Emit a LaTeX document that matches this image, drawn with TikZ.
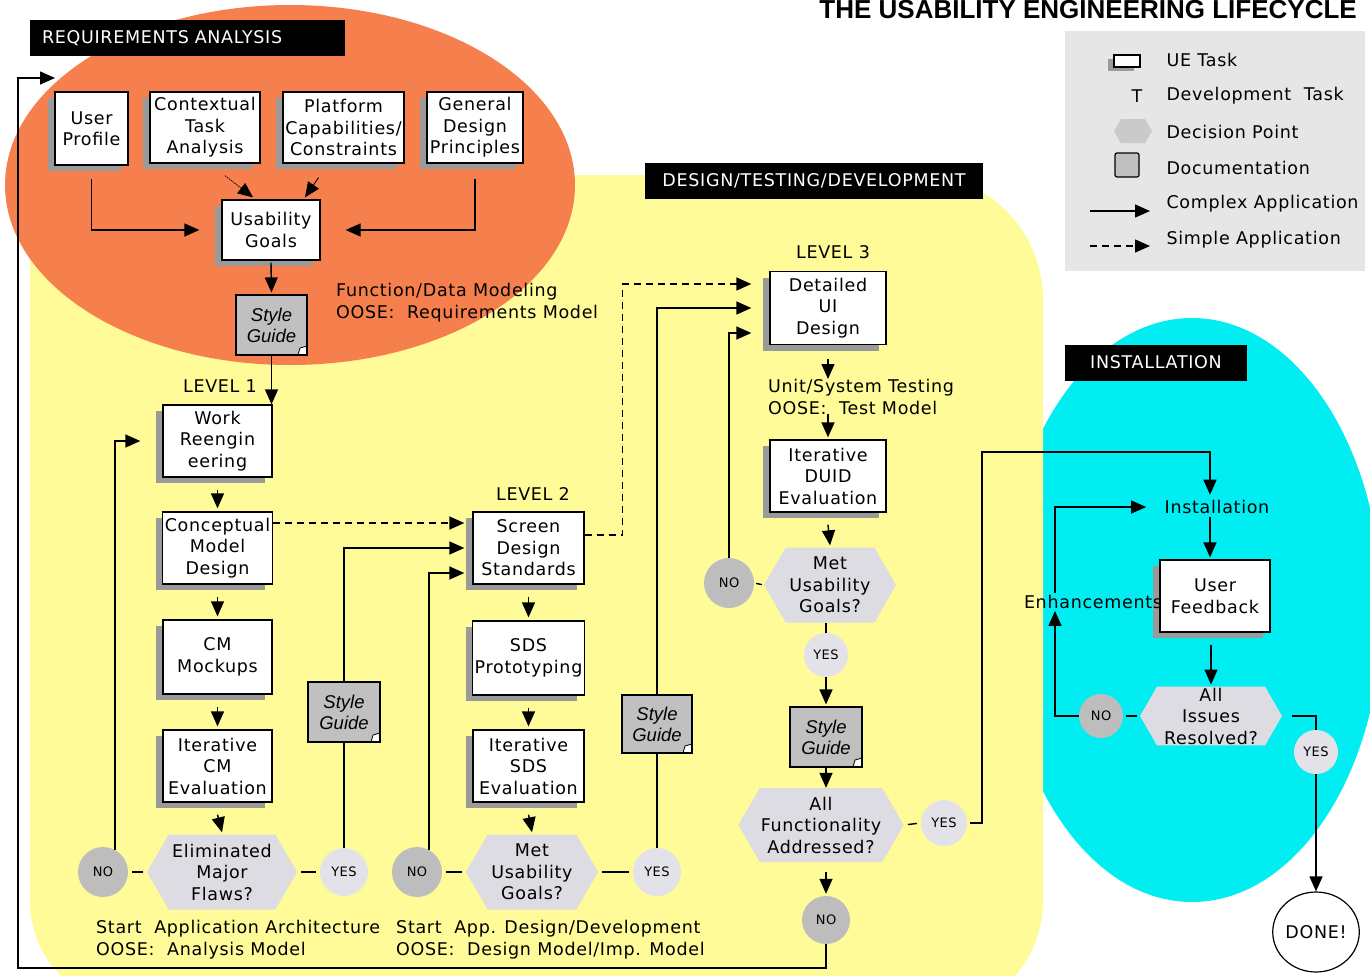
\documentclass[tikz,border=0pt]{standalone}
\usepackage{fontspec}
\setmainfont{DejaVu Sans}[LetterSpace=4]
\newfontfamily\titlefam{Liberation Sans}
\newfontfamily\docfam{Liberation Sans}
\usetikzlibrary{arrows.meta,shapes.geometric,shapes.symbols,shadows,calc}
\definecolor{reqorange}{HTML}{F5804E}
\definecolor{devyellow}{HTML}{FFFB99}
\definecolor{instcyan}{HTML}{00EEF2}
\definecolor{legendgray}{HTML}{E6E6E6}
\definecolor{docgray}{HTML}{C0C0C0}
\definecolor{shadowgray}{HTML}{9A9A9A}
\definecolor{hexgray}{HTML}{DCDCE2}
\definecolor{nogray}{HTML}{BDBDBD}
\definecolor{yesgray}{HTML}{E2E2E8}
\newcommand\bxfont{\fontsize{17.5}{21.5}\selectfont}
\newcommand\smfont{\fontsize{13}{15}\selectfont}
\newcommand\dcfont{\docfam\itshape\fontsize{18.5}{21}\selectfont}
\begin{document}
\begin{tikzpicture}[x=1pt, y=-1pt, font=\bxfont,
  ue/.style={draw, line width=1.3pt, fill=white, align=center, inner sep=2pt,
    minimum height=72pt,
    drop shadow={shadow xshift=-7pt, shadow yshift=-6pt, fill=shadowgray, opacity=1}},
  doc/.style={draw, line width=1.2pt, fill=docgray, minimum width=71pt, minimum height=60pt,
    align=center, inner sep=1pt, font=\dcfont,
    path picture={
      \fill[white] ([xshift=-9pt]path picture bounding box.south east) --
        ([xshift=-7pt,yshift=7pt]path picture bounding box.south east) --
        ([yshift=9pt]path picture bounding box.south east) --
        (path picture bounding box.south east) -- cycle;
      \draw[line width=0.8pt] ([xshift=-9pt]path picture bounding box.south east) --
        ([xshift=-7pt,yshift=7pt]path picture bounding box.south east) --
        ([yshift=9pt]path picture bounding box.south east);}},
  hex/.style={signal, signal to=east and west, signal pointer angle=120,
    fill=hexgray, align=center, inner sep=1pt, minimum height=75pt},
  nocirc/.style={circle, fill=nogray, inner sep=0pt, minimum size=50pt, font=\smfont},
  yescirc/.style={circle, fill=yesgray, inner sep=0pt, minimum size=48pt, font=\smfont},
  hdr/.style={fill=black, text=white, inner xsep=6pt, inner ysep=0pt, minimum height=36pt},
  txt/.style={inner sep=0pt, align=left},
  arr/.style={-{Triangle[length=15pt,width=13pt]}, line width=1.4pt},
  link/.style={line width=1.4pt},
  dashln/.style={dash pattern=on 7pt off 5pt}
]
\useasboundingbox (0,0) rectangle (1370,975);
\fill[white] (0,0) rectangle (1370,975);

% regions
\fill[instcyan] (1192,610) ellipse [x radius=190pt, y radius=292pt];
\fill[devyellow] (30,175) -- (920,175) to[out=0,in=90] (1043,300) -- (1043,900)
  to[out=-90,in=0] (960,1000) -- (120,1000) to[out=180,in=-90] (30,900) -- cycle;
\fill[reqorange] (290,185) ellipse [x radius=285pt, y radius=180pt];

% title and headers
\node[anchor=base east, font=\titlefam\bfseries\fontsize{26}{28}\selectfont, inner sep=0pt]
  (title) at (1357,18) {THE USABILITY ENGINEERING LIFECYCLE};
\node[hdr, minimum width=315pt, text width=291pt, align=left, inner xsep=12pt] (hra) at (187.5,38) {REQUIREMENTS ANALYSIS};
\node[hdr, minimum width=338pt] (hdd) at (814,180.5) {DESIGN/TESTING/DEVELOPMENT};
\node[hdr, minimum width=182pt] (hin) at (1156,362.5) {INSTALLATION};

% legend
\node[fill=legendgray, minimum width=300pt, minimum height=240pt, anchor=north west, inner sep=0pt] (leg) at (1065,31) {};
\node[draw, line width=1.2pt, fill=white, minimum width=26pt, minimum height=12pt, inner sep=0pt,
  drop shadow={shadow xshift=-6pt, shadow yshift=-4pt, fill=shadowgray, opacity=1}] (lgue) at (1127,61) {};
\node[anchor=west] (lt1) at (1163,60) {UE Task};
\node (lgt) at (1137,96) {T};
\node[anchor=west] (lt2) at (1163,96) {Development\ \ Task};
\node[signal, signal to=east and west, signal pointer angle=120, fill=nogray!80, minimum width=38pt, minimum height=24pt, inner sep=0pt] (lgdp) at (1133,131) {};
\node[anchor=west] (lt3) at (1163,132) {Decision Point};
\node[draw, line width=1.2pt, fill=docgray, minimum size=24pt, inner sep=0pt, rounded corners=2pt] (lgdoc) at (1127,165) {};
\node[anchor=west] (lt4) at (1163,168) {Documentation};
\coordinate (la1) at (1090,211); \coordinate (la2) at (1150,211);
\coordinate (lb1) at (1090,246); \coordinate (lb2) at (1150,246);
\draw[arr] (la1) -- (la2);
\draw[arr, dashln] (lb1) -- (lb2);
\node[anchor=west] (lt5) at (1163,204) {Complex Application};
\node[anchor=west] (lt6) at (1163,240) {Simple Application};

% requirements analysis
\node[ue, minimum width=73pt, minimum height=73pt] (up) at (91.5,128.5) {User\\Profile};
\node[ue, minimum width=110pt, minimum height=71pt] (cta) at (205,127.5) {Contextual\\Task\\Analysis};
\node[ue, minimum width=121pt, minimum height=71pt] (pcc) at (343.5,127.5) {Platform\\Capabilities/\\Constraints};
\node[ue, minimum width=96pt, minimum height=71pt] (gdp) at (475,127.5) {General\\Design\\Principles};
\node[ue, minimum width=98pt, minimum height=60pt] (ug) at (271,230) {Usability\\Goals};
\node[doc] (sg1) at (271.5,325) {Style\\Guide};
\node[txt, anchor=north west] (fdm) at (336,283) {Function/Data Modeling\\OOSE:\ \ Requirements Model};

% level 1
\node (lv1) at (220,386) {LEVEL 1};
\node[ue, minimum width=109pt] (wr) at (217.5,441) {Work\\Reengin\\eering};
\node[ue, minimum width=109pt] (cmd) at (217.5,548) {Conceptual\\Model\\Design};
\node[ue, minimum width=109pt, minimum height=74pt] (cmm) at (217.5,657) {CM\\Mockups};
\node[ue, minimum width=109pt] (icm) at (217.5,766) {Iterative\\CM\\Evaluation};
\node[hex, minimum width=150pt] (hex1) at (222,872) {Eliminated\\Major\\Flaws?};
\node[nocirc] (no1) at (103,872) {NO};
\node[yescirc] (yes1) at (344,872) {YES};
\node[doc, minimum width=72pt] (sg2) at (344,712) {Style\\Guide};
\node[txt, anchor=north west] (saa) at (96,920) {Start\ \ Application Architecture\\OOSE:\ \ Analysis Model};

% level 2
\node (lv2) at (533,494) {LEVEL 2};
\node[ue, minimum width=111pt] (sds) at (528.5,548) {Screen\\Design\\Standards};
\node[ue, minimum width=111pt, minimum height=74pt] (sdp) at (528.5,658) {SDS\\Prototyping};
\node[ue, minimum width=111pt] (isds) at (528.5,766) {Iterative\\SDS\\Evaluation};
\node[hex, minimum width=132pt] (hex2) at (532,872) {Met\\Usability\\Goals?};
\node[nocirc] (no2) at (417,872) {NO};
\node[yescirc] (yes2) at (657,872) {YES};
\node[doc, minimum width=70pt, minimum height=58pt] (sg3) at (657,724) {Style\\Guide};
\node[txt, anchor=north west] (sad) at (396,920) {Start\ \ App. Design/Development\\OOSE:\ \ Design Model/Imp. Model};

% level 3
\node (lv3) at (833,252) {LEVEL 3};
\node[ue, minimum width=116pt, minimum height=73pt] (dui) at (828,308) {Detailed\\UI\\Design};
\node[txt, anchor=north west] (ust) at (768,379) {Unit/System Testing\\OOSE:\ \ Test Model};
\node[ue, minimum width=116pt] (ide) at (828,476) {Iterative\\DUID\\Evaluation};
\node[hex, minimum width=132pt] (hex3) at (830,585) {Met\\Usability\\Goals?};
\node[nocirc] (no3) at (729,583) {NO};
\node[yescirc, minimum size=44pt] (yes3) at (826,655) {YES};
\node[doc, minimum width=72pt] (sg4) at (826,737) {Style\\Guide};
\node[hex, minimum width=150pt, minimum height=74pt] (hex4) at (821,825) {All\\Functionality\\Addressed?};
\node[yescirc, minimum size=46pt] (yes4) at (944,823) {YES};
\node[nocirc, minimum size=48pt] (no4) at (826,920) {NO};
\coordinate (j1) at (982,452);
\coordinate (fb1) at (18,968);
\coordinate (fb2) at (55,78);

% installation
\node (inst) at (1217,507) {Installation};
\node[ue, minimum width=110pt] (uf) at (1215,596) {User\\Feedback};
\node[inner sep=2pt] (enh) at (1093,602) {Enhancements};
\node[hex, minimum width=142pt, minimum height=58pt] (hex5) at (1211,716) {All\\Issues\\Resolved?};
\node[nocirc, minimum size=44pt] (no5) at (1101,716) {NO};
\node[yescirc, minimum size=44pt] (yes5) at (1316,752) {YES};
\node[ellipse, draw, line width=1.2pt, fill=white, minimum width=72pt, minimum height=80pt, inner sep=0pt] (done) at (1316,932) {DONE!};

% ---------------- connectors ----------------
\draw[arr] ([yshift=-13pt]up.south) |- ([xshift=-22pt]ug.west);
\draw[arr] ([yshift=-15pt]gdp.south) |- ([xshift=25pt]ug.east);
\draw[arr, densely dotted, line width=0.8pt] ([xshift=20pt,yshift=-12pt]cta.south) -- ([xshift=-18pt,yshift=2pt]ug.north);
\draw[arr, line width=0.9pt] ([xshift=-25pt,yshift=-14pt]pcc.south) -- ([xshift=34pt,yshift=2pt]ug.north);
\draw[arr] ([yshift=-2pt]ug.south) -- ([yshift=2pt]sg1.north);

\draw[arr] (sg1.south) -- (sg1.south |- wr.north);
\draw[arr] ([yshift=-12pt]wr.south) -- ([yshift=3pt]cmd.north);
\draw[arr] ([yshift=-12pt]cmd.south) -- ([yshift=3pt]cmm.north);
\draw[arr] ([yshift=-12pt]cmm.south) -- ([yshift=3pt]icm.north);
\draw[arr] ([yshift=-12pt]icm.south) -- ([yshift=2pt]hex1.north);
\draw[link, shorten <=4pt, shorten >=4pt] (no1.east) -- (hex1.west);
\draw[link, shorten <=4pt, shorten >=4pt] (hex1.east) -- (yes1.west);
\draw[arr] (no1.62) |- ([xshift=-22pt]wr.west);
\draw[link] (yes1.north) -- (sg2.south);
\draw[arr] (sg2.north) |- ([xshift=-8pt]sds.west);
\draw[arr, dashln] ([yshift=25pt]cmd.east) -- ([xshift=-8pt,yshift=25pt]sds.west);

\draw[arr] ([yshift=-12pt]sds.south) -- ([yshift=3pt]sdp.north);
\draw[arr] ([yshift=-12pt]sdp.south) -- ([yshift=3pt]isds.north);
\draw[arr] ([yshift=-12pt]isds.south) -- ([yshift=2pt]hex2.north);
\draw[link, shorten <=4pt, shorten >=4pt] (no2.east) -- (hex2.west);
\draw[link, shorten <=4pt, shorten >=4pt] (hex2.east) -- (yes2.west);
\draw[arr] (no2.62) |- ([xshift=-8pt,yshift=-25pt]sds.west);
\draw[link] (yes2.north) -- (sg3.south);
\draw[arr] (sg3.north) |- ([xshift=-18pt]dui.west);
\draw[arr, dashln] ([yshift=13pt]sds.east) -- ++(38,0) |- ([xshift=-18pt,yshift=24pt]dui.west);

\draw[arr] ([yshift=-14pt]dui.south) -- (dui.south |- ust.north);
\draw[arr] (ust.south -| ide.north) -- ([yshift=2pt]ide.north);
\draw[arr] ([yshift=-12pt]ide.south) -- ([yshift=2pt]hex3.north);
\draw[link, shorten <=2pt, shorten >=2pt] (no3.east) -- (hex3.west);
\draw[link] (hex3.south -| yes3.north) -- (yes3.north);
\draw[arr] (no3.north) |- ([xshift=-18pt,yshift=-25pt]dui.west);
\draw[arr] (yes3.south) -- ([yshift=2pt]sg4.north);
\draw[arr] (sg4.south) -- (sg4.south |- hex4.north);
\draw[link, shorten <=4pt, shorten >=4pt] (hex4.east) -- (yes4.west);
\draw[arr] ([yshift=-10pt]hex4.south -| no4.north) -- ([yshift=2pt]no4.north);
\draw[arr] ([xshift=3pt]yes4.east) -| (j1) -| ([xshift=-7pt,yshift=2pt]inst.north);
\draw[arr] (no4.south) |- (fb1) |- (fb2);

\draw[arr] ([xshift=-7pt]inst.south) -- ([xshift=-7pt,yshift=2pt]inst.south |- uf.north);
\draw[arr] ([yshift=-12pt]uf.south -| hex5.north) -- ([yshift=2pt]hex5.north);
\draw[link, shorten <=3pt, shorten >=3pt] (no5.east) -- (hex5.west);
\draw[arr] (no5.west) -| ([xshift=-38pt]enh.south);
\draw[arr] ([xshift=-38pt]enh.north) |- ([xshift=-15pt]inst.west);
\draw[link, shorten <=10pt] (hex5.east) -| (yes5.north);
\draw[arr] (yes5.south) -- (done.north);
\end{tikzpicture}
\end{document}
